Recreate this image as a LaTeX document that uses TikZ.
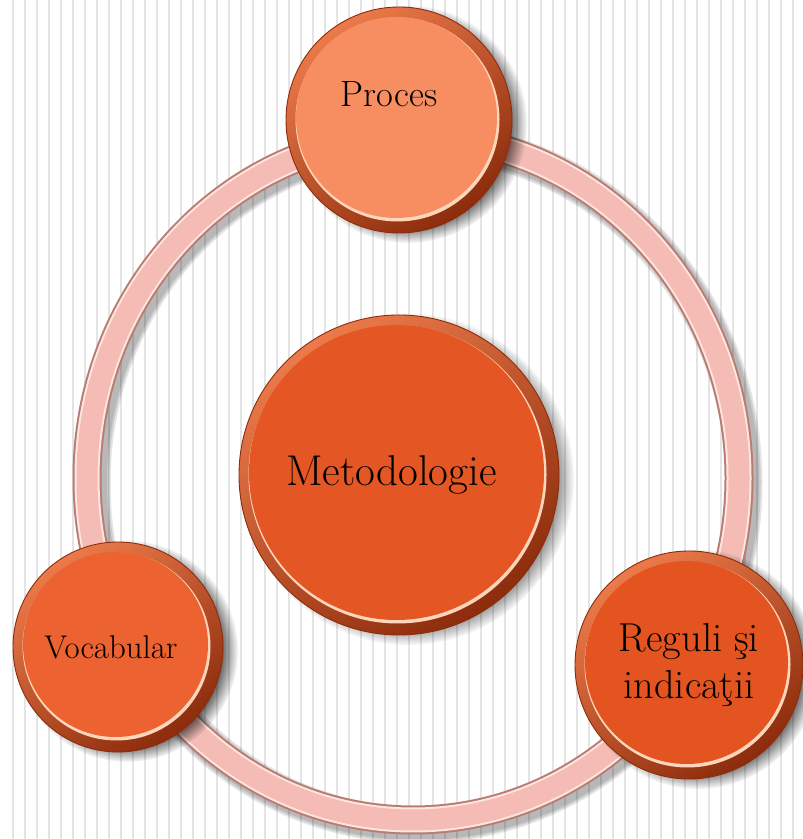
\documentclass[tikz,border=0pt]{standalone}
\usetikzlibrary{backgrounds, fadings}

\definecolor{stripegray}{RGB}{228,228,228}
\definecolor{ringpink}{RGB}{245,188,182}
\definecolor{ringedge}{RGB}{186,124,114}
\definecolor{ringglow}{RGB}{253,230,224}
\definecolor{rimlight}{RGB}{236,122,74}
\definecolor{rimdark}{RGB}{140,44,12}
\definecolor{glint}{RGB}{255,214,188}
\definecolor{procface}{RGB}{246,142,98}
\definecolor{vocface}{RGB}{236,98,48}
\definecolor{metoface}{RGB}{228,86,36}
\definecolor{regface}{RGB}{227,84,32}

\begin{document}
\begin{tikzpicture}[
  disc/.style 2 args={circle, minimum size=#1, inner sep=0pt, align=center,
    draw=rimdark, line width=0.5pt, fill=rimlight, text=black,
    path picture={
      \shade[top color=rimlight, bottom color=rimdark, shading angle=35]
        (path picture bounding box.south west) rectangle (path picture bounding box.north east);
      \fill[glint] ([shift={(-0.03,0.01)}]path picture bounding box.center) circle [radius=#1/2-0.22cm];
      \fill[#2] ([shift={(-0.05,0.05)}]path picture bounding box.center) circle [radius=#1/2-0.25cm];
    }},
  discshadow/.style={fill=black, fill opacity=0.6, path fading=circle with fuzzy edge 15 percent},
  ringline/.style={line width=#1},
]
  \useasboundingbox (0,0) rectangle (16.06,16.78);
  \coordinate (ringc) at (8.26,7.22);

  % centre disc
  \node[disc={6.4cm}{metoface}, font=\fontsize{24.5}{29}\selectfont] (meto) at (7.98,7.28) {Metodologie\hspace{0.3cm}};

  % outer discs
  \node[disc={4.52cm}{procface}, font=\fontsize{20.8}{25}\selectfont, text height=0.55cm, text depth=1.07cm] (proc) at (7.98,14.38) {Proces\hspace{0.4cm}};
  \node[disc={4.2cm}{vocface}, font=\fontsize{18.7}{22}\selectfont] (voc) at (2.36,3.84) {Vocabular\hspace{0.28cm}};
  \node[disc={4.56cm}{regface}, font=\fontsize{23}{27}\selectfont] (reg) at (13.78,3.48) {Reguli şi\\indicaţii};

  \begin{scope}[on background layer]
    \clip (0,0) rectangle (16.06,16.78);
    % striped backdrop
    \fill[white] (0,0) rectangle (16.06,16.78);
    \foreach \k in {0,...,65}
      \fill[stripegray] (0.232+0.24*\k,0) rectangle ++(0.052,16.78);
    % ring with its shadow
    \foreach \w in {0.74cm,0.67cm,0.60cm}
      \draw[black, draw opacity=0.1, ringline=\w] ([shift={(0.1,-0.1)}]ringc) ellipse [x radius=6.52, y radius=6.84];
    \draw[ringedge, ringline=0.58cm] (ringc) ellipse [x radius=6.52, y radius=6.84];
    \draw[ringglow, ringline=0.5cm] (ringc) ellipse [x radius=6.52, y radius=6.84];
    \draw[ringpink, ringline=0.42cm] (ringc) ellipse [x radius=6.52, y radius=6.84];
    % disc shadows
    \foreach \n/\r in {meto/3.32, proc/2.38, voc/2.22, reg/2.4}
      \fill[discshadow] ([shift={(0.18,-0.08)}]\n.center) circle [radius=\r];
  \end{scope}
\end{tikzpicture}
\end{document}
